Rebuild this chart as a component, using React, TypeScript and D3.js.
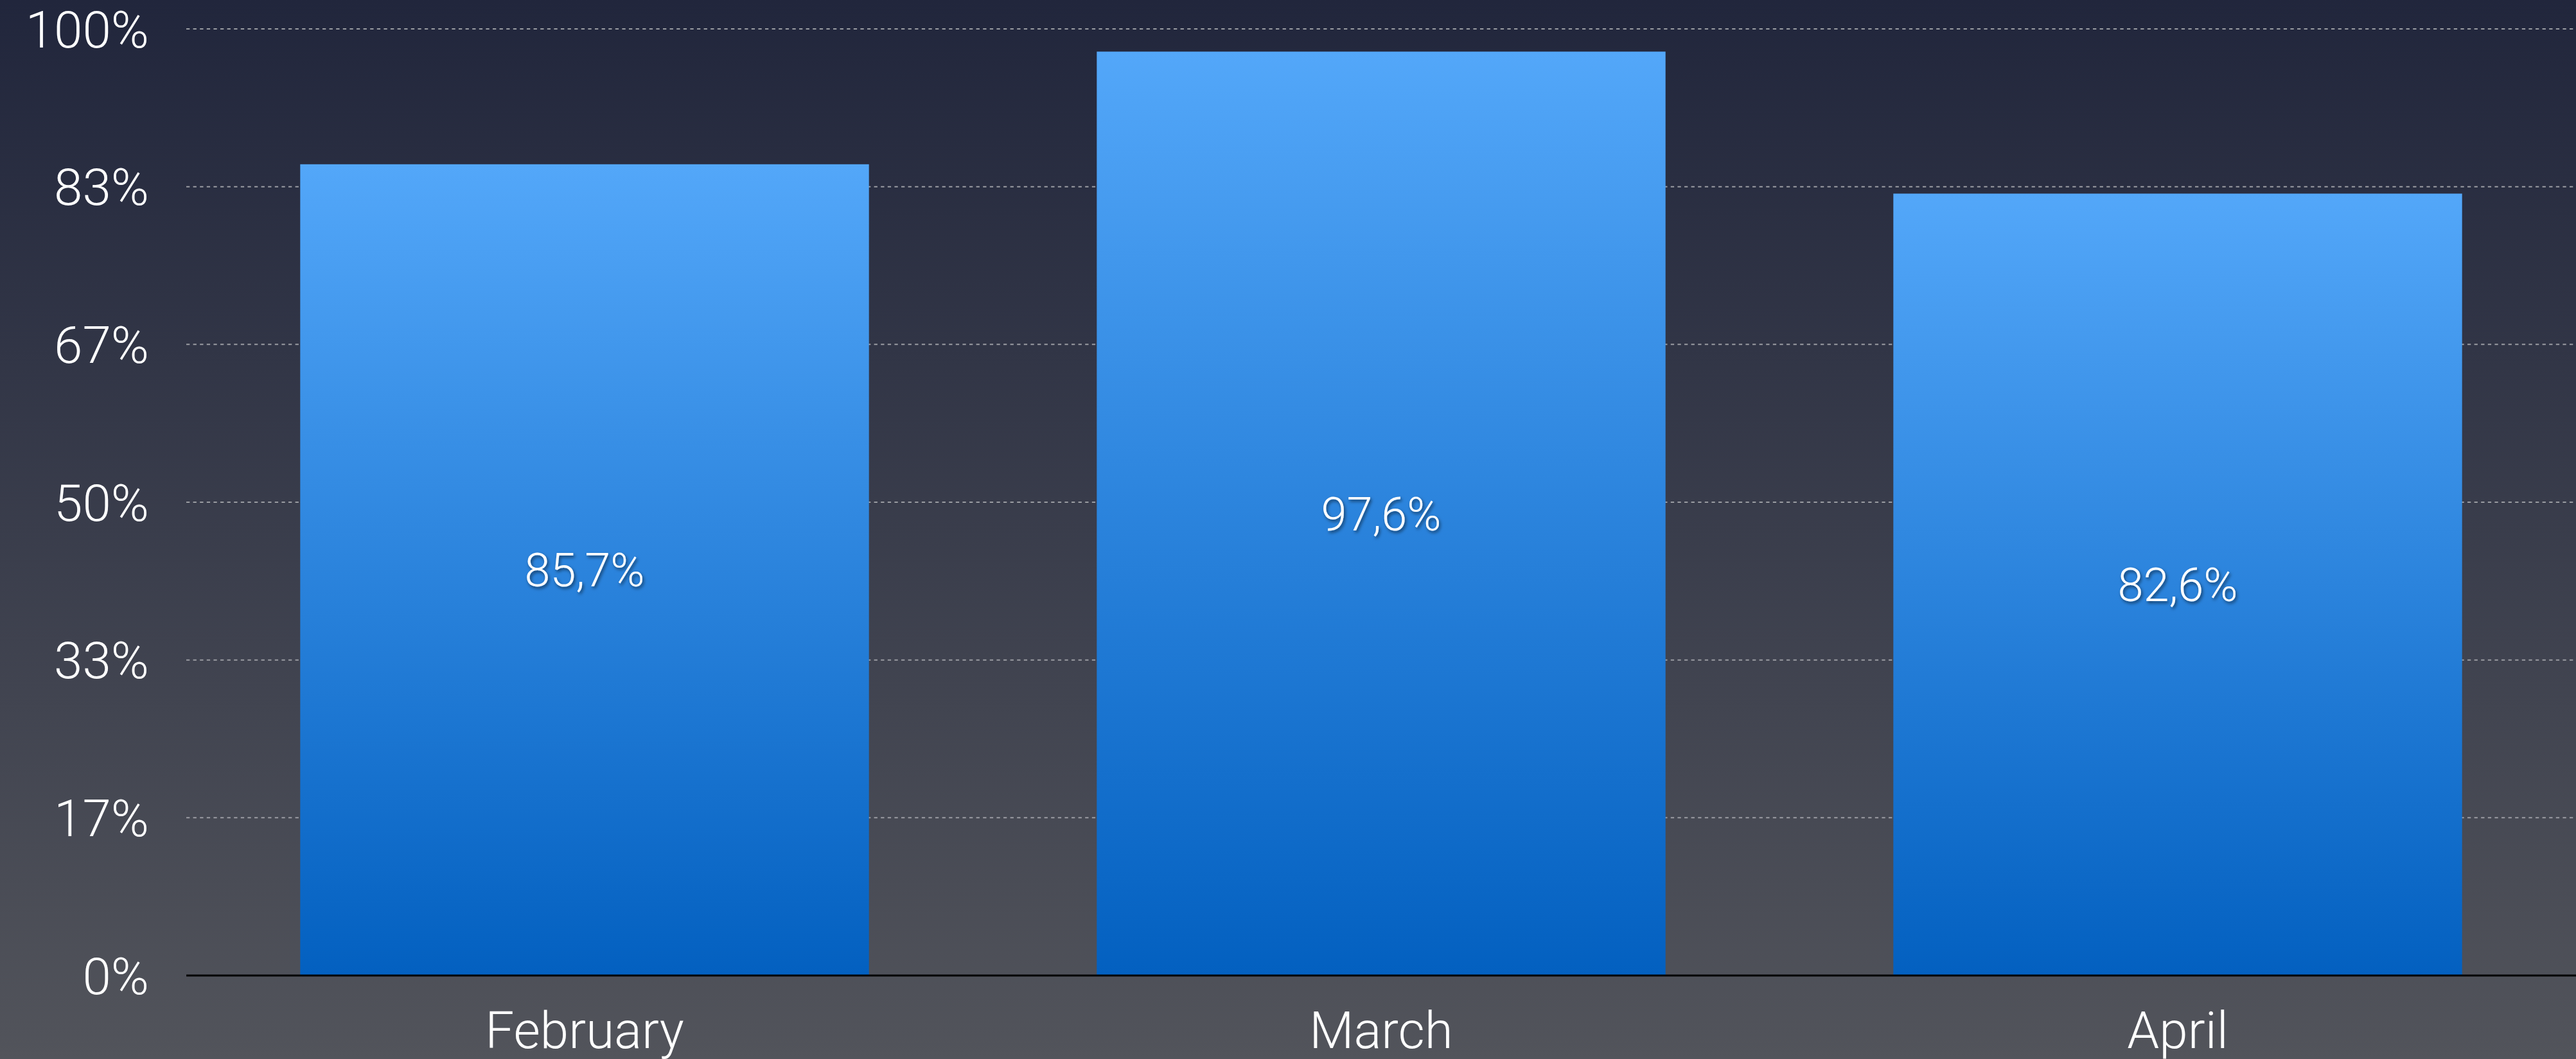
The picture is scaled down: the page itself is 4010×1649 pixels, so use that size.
import React from 'react';
import * as d3 from 'd3';

// chart data
const months = ['February', 'March', 'April'];
const shares = [0.857, 0.976, 0.826];
const valueLabels = ['85,7%', '97,6%', '82,6%'];
const tickValues = [0, 1 / 6, 2 / 6, 3 / 6, 4 / 6, 5 / 6, 1];
const tickLabels = ['0%', '17%', '33%', '50%', '67%', '83%', '100%'];

const W = 4010;
const H = 1649;
const margin = { top: 45, right: 0, bottom: 130, left: 290 };
const font = 'Roboto, "Helvetica Neue", "Liberation Sans", sans-serif';

const App = () => {
  const x = d3
    .scaleBand()
    .domain(months)
    .range([margin.left, W - margin.right])
    .paddingInner(0.286)
    .paddingOuter(0.143);

  const y = d3
    .scaleLinear()
    .domain([0, 1])
    .range([H - margin.bottom, margin.top]);

  return (
    <div style={{ position: 'absolute', left: 0, top: 0 }}>
      <svg width={W} height={H} style={{ display: 'block' }}>
        <defs>
          <linearGradient id="bg" x1="0" y1="0" x2="0" y2="1">
            <stop offset="0%" stopColor="#21263c" />
            <stop offset="100%" stopColor="#52545b" />
          </linearGradient>
          <linearGradient id="bar" x1="0" y1="0" x2="0" y2="1">
            <stop offset="0%" stopColor="#53a7f9" />
            <stop offset="100%" stopColor="#0360c0" />
          </linearGradient>
          <filter id="shadow" x="-20%" y="-30%" width="140%" height="160%">
            <feDropShadow dx="2" dy="3" stdDeviation="2.5" floodColor="#000" floodOpacity="0.55" />
          </filter>
        </defs>

        <rect x={0} y={0} width={W} height={H} fill="url(#bg)" />

        {/* grid lines */}
        {tickValues.slice(1).map((t, i) => (
          <line
            key={'g' + i}
            x1={margin.left}
            x2={W - margin.right}
            y1={y(t)}
            y2={y(t)}
            stroke="#9a9ca2"
            strokeWidth={2}
            strokeDasharray="5.3 5.3"
          />
        ))}

        {/* y tick labels */}
        {tickValues.map((t, i) => (
          <text
            key={'t' + i}
            x={232}
            y={y(t)}
            dy="0.36em"
            textAnchor="end"
            fill="#fff"
            fontFamily={font}
            fontWeight={300}
            fontSize={80}
          >
            {tickLabels[i]}
          </text>
        ))}

        {/* bars */}
        {months.map((m, i) => (
          <rect
            key={m}
            x={x(m)}
            y={y(shares[i])}
            width={x.bandwidth()}
            height={y(0) - y(shares[i])}
            fill="url(#bar)"
          />
        ))}

        {/* baseline */}
        <line
          x1={margin.left}
          x2={W - margin.right}
          y1={y(0)}
          y2={y(0)}
          stroke="#000"
          strokeWidth={3}
        />

        {/* value labels */}
        {months.map((m, i) => (
          <text
            key={'v' + m}
            x={(x(m) ?? 0) + x.bandwidth() / 2}
            y={(y(shares[i]) + y(0)) / 2}
            dy="0.36em"
            textAnchor="middle"
            fill="#fff"
            fontFamily={font}
            fontWeight={300}
            fontSize={72}
            filter="url(#shadow)"
          >
            {valueLabels[i]}
          </text>
        ))}

        {/* category labels */}
        {months.map((m) => (
          <text
            key={'c' + m}
            x={(x(m) ?? 0) + x.bandwidth() / 2}
            y={1632}
            textAnchor="middle"
            fill="#fff"
            fontFamily={font}
            fontWeight={300}
            fontSize={80}
          >
            {m}
          </text>
        ))}
      </svg>
    </div>
  );
};

export default App;
